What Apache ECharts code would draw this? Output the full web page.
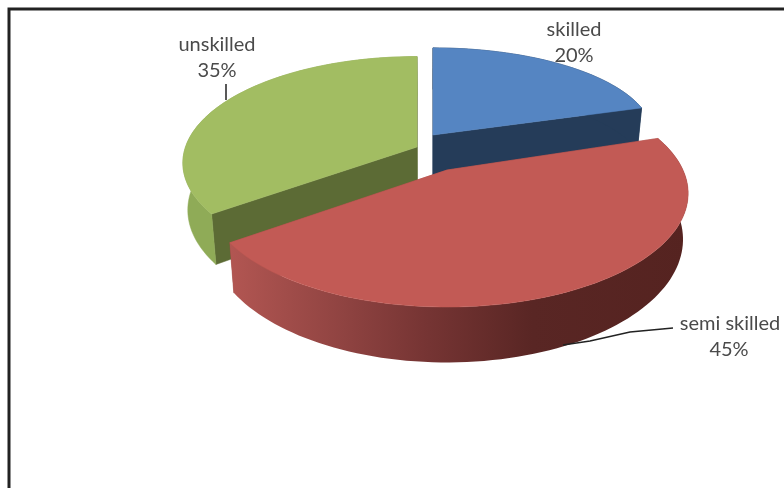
<!DOCTYPE html>
<html>
<head>
<meta charset="utf-8">
<style>
html,body{margin:0;padding:0;background:#fff;}
#c{width:784px;height:488px;filter:blur(0.7px);}
</style>
<script src="https://cdn.jsdelivr.net/npm/echarts@6/dist/echarts.min.js"></script>
</head>
<body>
<div id="c"></div>
<script>
const categories = ['skilled', 'semi skilled', 'unskilled'];
const shares = [20, 45, 35];

const chart = echarts.init(document.getElementById('c'), null, {renderer: 'canvas'});
const total = shares.reduce((a, b) => a + b, 0);

// Drawing geometry of each exploded slice (apex, perspective radii, wall depth, stacking)
const geometry = [
  {ax: 433, ay: 135, R: 220, a: 88, k: .01, h: 42, layer: 1},
  {ax: 447, ay: 170, R: 236, a: 108.8, k: .206, h: 44, layer: 3},
  {ax: 417, ay: 147, R: 231.5, a: 104, k: .15, h: 46, layer: 2}
];
const paints = [
  {top: '#5585c2', radial: '#253c59', outer: '#253c59'},
  {top: '#c25a55', radial: '#a04a47', outer: new echarts.graphic.LinearGradient(0, 0, 1, 0, [
    {offset: 0, color: '#b25652'}, {offset: .25, color: '#8f4341'},
    {offset: .42, color: '#773534'}, {offset: .66, color: '#592624'}, {offset: 1, color: '#552320'}
  ])},
  {top: '#a2bd62', radial: '#5c6b35', outer: '#8fab57'}
];
const VX = 430, TAPER = .02;

function project(g, th) {
  const u = Math.sin(th), v = -Math.cos(th), d = 1 - g.k * v;
  return {x: g.ax + g.R * u / d, y: g.ay + g.a * v / d, d: d};
}
function lower(g, p) {
  return [VX + (p.x - VX) * (1 - TAPER), p.y + g.h / p.d];
}
function renderSlice(params, api) {
  const i = params.dataIndex, g = geometry[i], paint = paints[i];
  let cum = 0;
  for (let j = 0; j < i; j++) cum += shares[j];
  const t0 = cum / total * 2 * Math.PI;
  const t1 = (cum + api.value(0)) / total * 2 * Math.PI;
  const n = Math.max(2, Math.ceil((t1 - t0) / 0.03));
  const arc = [];
  for (let s = 0; s <= n; s++) arc.push(project(g, t0 + (t1 - t0) * s / n));
  const apex = {x: g.ax, y: g.ay, d: 1};
  const apexB = lower(g, apex);
  const first = arc[0], last = arc[n];
  const topPts = [[apex.x, apex.y]].concat(arc.map(p => [p.x, p.y]));
  const outerPts = arc.map(p => [p.x, p.y]).concat(arc.slice().reverse().map(p => lower(g, p)));
  const poly = (pts, fill, step) => ({type: 'polygon', z2: g.layer * 10 + step, shape: {points: pts},
    style: {fill: fill, stroke: typeof fill === 'string' ? fill : null, lineWidth: typeof fill === 'string' ? .5 : 0}});
  return {type: 'group', children: [
    poly([[apex.x, apex.y], [first.x, first.y], lower(g, first), apexB], paint.radial, 0),
    poly([[apex.x, apex.y], [last.x, last.y], lower(g, last), apexB], paint.radial, 0),
    poly(outerPts, paint.outer, 1),
    poly(topPts, paint.top, 2)
  ]};
}

const labelStyle = {fontFamily: 'Lato', fontSize: 20, fill: '#4a4a4a', textAlign: 'center', textVerticalAlign: 'middle'};
const pct = i => Math.round(shares[i] / total * 100) + '%';
const txt = (x, y, s) => ({type: 'text', x: x, y: y, z: 20, style: Object.assign({text: s}, labelStyle)});
const line = (pts, w) => ({type: 'polyline', z: 20, shape: {points: pts}, style: {stroke: '#222', lineWidth: w, fill: null}});

chart.setOption({
  animation: false,
  backgroundColor: '#fff',
  series: [{
    type: 'custom',
    coordinateSystem: 'none',
    renderItem: renderSlice,
    data: shares.map((v, i) => ({name: categories[i], value: [v]}))
  }],
  graphic: {elements: [
    line([[9, 488], [9, 9], [784, 9]], 3),
    txt(574, 30, categories[0]), txt(574, 56, pct(0)),
    txt(730, 324, categories[1]), txt(729, 350, pct(1)),
    txt(217, 45, categories[2]), txt(217, 71, pct(2)),
    line([[226, 84], [226, 100]], 1.5),
    line([[563, 345], [590, 341], [630, 332], [673, 328]], 1.5)
  ]}
});
</script>
</body>
</html>
